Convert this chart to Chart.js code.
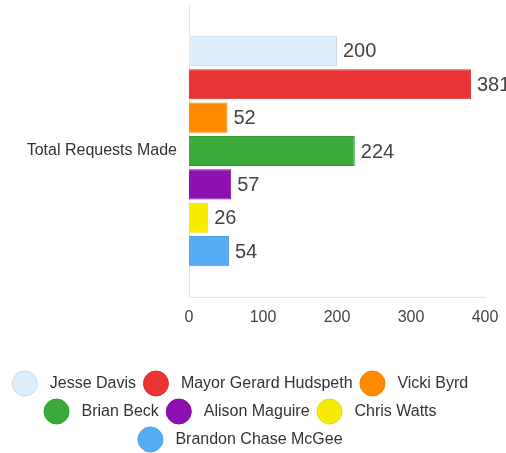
<!DOCTYPE html>
<html>
<head>
<meta charset="utf-8">
<title>Total Requests Made</title>
<script src="https://cdn.jsdelivr.net/npm/chart.js@4/dist/chart.umd.min.js"></script>
<style>
  body { margin: 0; overflow: hidden; background: #fff; }
  #wrap { position: relative; width: 506px; height: 462px; }
</style>
</head>
<body>
<div id="wrap"><canvas id="myChart"></canvas></div>
<script>
// data
var categories = ['Total Requests Made'];
var people = ['Jesse Davis', 'Mayor Gerard Hudspeth', 'Vicki Byrd', 'Brian Beck', 'Alison Maguire', 'Chris Watts', 'Brandon Chase McGee'];
var requests = [200, 381, 52, 224, 57, 26, 54];
var xTicks = [0, 100, 200, 300, 400];

var fills = ['#deeefa', '#ea3333', '#ff8a00', '#3aab3a', '#8e10ae', '#f8ea00', '#56adf6'];
var borders = ['#c9d9e6', '#d62b2b', '#f08000', '#2f9a2f', '#7d0a9c', '#e8da00', '#4a9fe8'];

// numbers at the end of each bar
var barValues = {
  id: 'barValues',
  afterDatasetsDraw: function (chart) {
    var ctx = chart.ctx;
    ctx.save();
    ctx.font = '20px "Liberation Sans", Arial, sans-serif';
    ctx.fillStyle = '#444';
    ctx.textAlign = 'left';
    ctx.textBaseline = 'middle';
    chart.data.datasets.forEach(function (ds, i) {
      var meta = chart.getDatasetMeta(i);
      meta.data.forEach(function (bar, j) {
        ctx.fillText(ds.data[j], bar.x + 6, bar.y + 1);
      });
    });
    ctx.restore();
  }
};

var datasets = people.map(function (name, i) {
  return {
    label: name,
    data: [requests[i]],
    backgroundColor: fills[i],
    borderColor: borders[i],
    borderWidth: 1
  };
});

var chart = new Chart(document.getElementById('myChart'), {
  type: 'bar',
  data: { labels: categories, datasets: datasets },
  plugins: [barValues],
  options: {
    indexAxis: 'y',
    responsive: true,
    maintainAspectRatio: false,
    animation: false,
    layout: { padding: { top: 5, right: 21, left: 0, bottom: 0 } },
    scales: {
      x: {
        min: xTicks[0],
        max: xTicks[xTicks.length - 1],
        afterBuildTicks: function (axis) {
          axis.ticks = xTicks.map(function (v) { return { value: v }; });
        },
        afterFit: function (axis) {
          axis.height = 71;
          // right margin comes from layout padding only
          axis.paddingLeft = 0;
          axis.paddingRight = 0;
        },
        grid: { display: false, drawTicks: false },
        border: { display: true, color: '#e3e3e3', width: 1 },
        ticks: { padding: 11, color: '#444', font: { size: 16, family: '"Liberation Sans", Arial, sans-serif' } }
      },
      y: {
        afterFit: function (axis) {
          axis.width = 189;
          // label sits in the middle, no need for room above/below
          axis.paddingTop = 0;
          axis.paddingBottom = 0;
        },
        grid: { display: false, drawTicks: false },
        border: { display: true, color: '#e3e3e3', width: 1 },
        ticks: { padding: 12, color: '#333', font: { size: 16, family: '"Liberation Sans", Arial, sans-serif' } }
      }
    },
    plugins: {
      tooltip: { enabled: false },
      legend: {
        position: 'bottom',
        labels: {
          color: '#333',
          font: { size: 16, family: '"Liberation Sans", Arial, sans-serif' },
          boxWidth: 25,
          boxHeight: 25,
          padding: 3,
          useBorderRadius: true,
          borderRadius: 12.5,
          generateLabels: function (c) {
            var items = Chart.defaults.plugins.legend.labels.generateLabels(c);
            items.forEach(function (it) { it.text = ' ' + it.text + ' '; });
            return items;
          }
        }
      }
    }
  }
});
</script>
</body>
</html>
